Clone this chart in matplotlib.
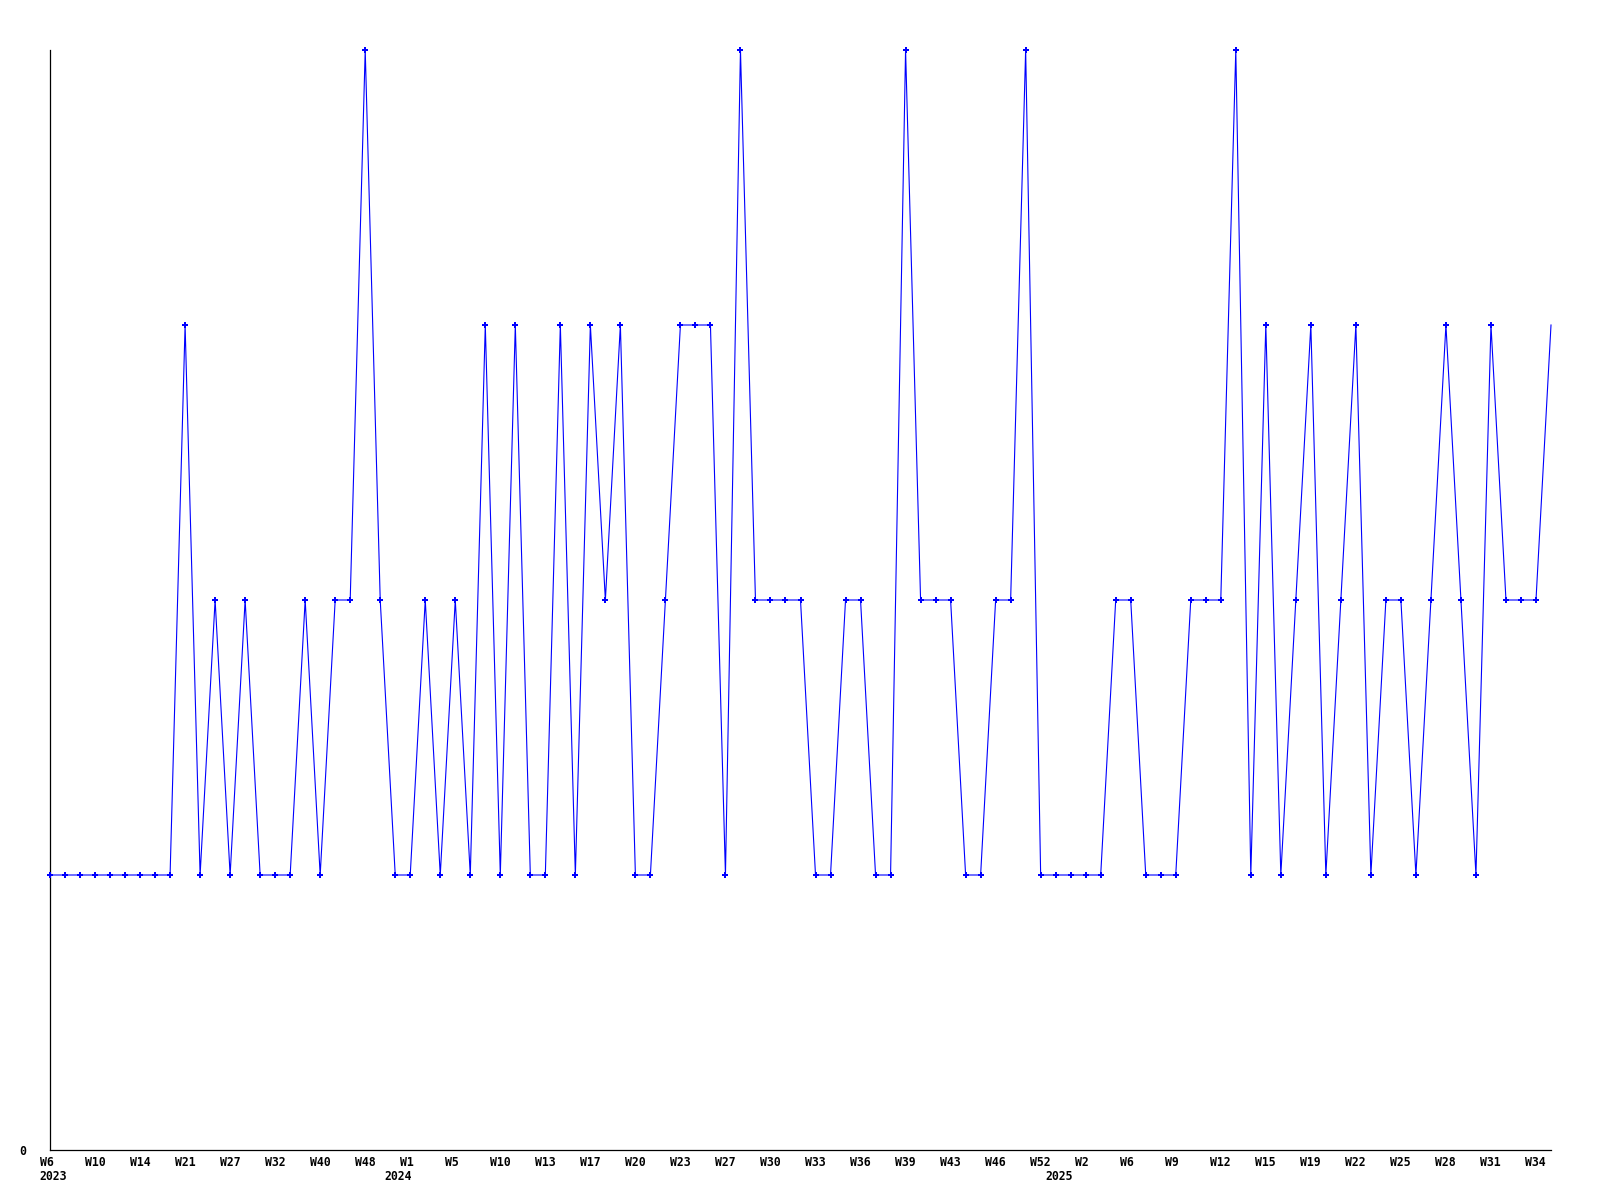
import matplotlib
matplotlib.use("Agg")
import matplotlib.pyplot as plt
from matplotlib.transforms import ScaledTranslation

# ---- data ----
values = [1, 1, 1, 1, 1, 1, 1, 1, 1, 3,
          1, 2, 1, 2, 1, 1, 1, 2, 1, 2,
          2, 4, 2, 1, 1, 2, 1, 2, 1, 3,
          1, 3, 1, 1, 3, 1, 3, 2, 3, 1,
          1, 2, 3, 3, 3, 1, 4, 2, 2, 2,
          2, 1, 1, 2, 2, 1, 1, 4, 2, 2,
          2, 1, 1, 2, 2, 4, 1, 1, 1, 1,
          1, 2, 2, 1, 1, 1, 2, 2, 2, 4,
          1, 3, 1, 2, 3, 1, 2, 3, 1, 2,
          2, 1, 2, 3, 2, 1, 3, 2, 2, 2,
          3]

week_labels = ["W6", "W10", "W14", "W21", "W27", "W32", "W40", "W48", "W1", "W5",
               "W10", "W13", "W17", "W20", "W23", "W27", "W30", "W33", "W36", "W39",
               "W43", "W46", "W52", "W2", "W6", "W9", "W12", "W15", "W19", "W22",
               "W25", "W28", "W31", "W34"]
label_step = 3

year_labels = ["2023", "2024", "2025"]
year_index = [0, 23, 67]

y_max = 4

# ---- figure ----
W, H, DPI = 1600, 1200, 100
fig = plt.figure(figsize=(W / DPI, H / DPI), dpi=DPI)
fig.patch.set_facecolor("white")
ax = fig.add_axes([50 / W, 50 / H, 1501 / W, 1100 / H])

font = dict(family="DejaVu Sans Mono", weight="bold", size=8.3)

x = list(range(len(values)))
ax.plot(x, values, color="#0000ff", linewidth=0.8,
        marker="P", markersize=4.3, markeredgewidth=0,
        markevery=slice(0, len(values) - 1), clip_on=False, zorder=3)

ax.set_xlim(0, len(values) - 1)
ax.set_ylim(0, y_max)

for s in ("top", "right"):
    ax.spines[s].set_visible(False)
for s in ("left", "bottom"):
    ax.spines[s].set_color("black")
    ax.spines[s].set_linewidth(0.9)

# y axis: only "0"
ax.set_yticks([0])
ax.set_yticklabels(["0"], **font)
ax.tick_params(axis="y", length=0, pad=17)

# x axis labels every 3 points, left aligned slightly before the point
tick_pos = [i * label_step for i in range(len(week_labels))]
ax.set_xticks(tick_pos)
ax.set_xticklabels(week_labels, **font)
ax.tick_params(axis="x", length=0, pad=4.3)
shift = ScaledTranslation(-10.5 / DPI, 0, fig.dpi_scale_trans)
for lbl in ax.get_xticklabels():
    lbl.set_ha("left")
    lbl.set_transform(lbl.get_transform() + shift)

for txt, idx in zip(year_labels, year_index):
    ax.annotate(txt, xy=(idx, 0), xycoords=("data", "axes fraction"),
                xytext=(-10.5 * 72 / DPI, -20.5 * 72 / DPI), textcoords="offset points",
                ha="left", va="top", **font)

fig.savefig("out.png", dpi=DPI, facecolor="white")
